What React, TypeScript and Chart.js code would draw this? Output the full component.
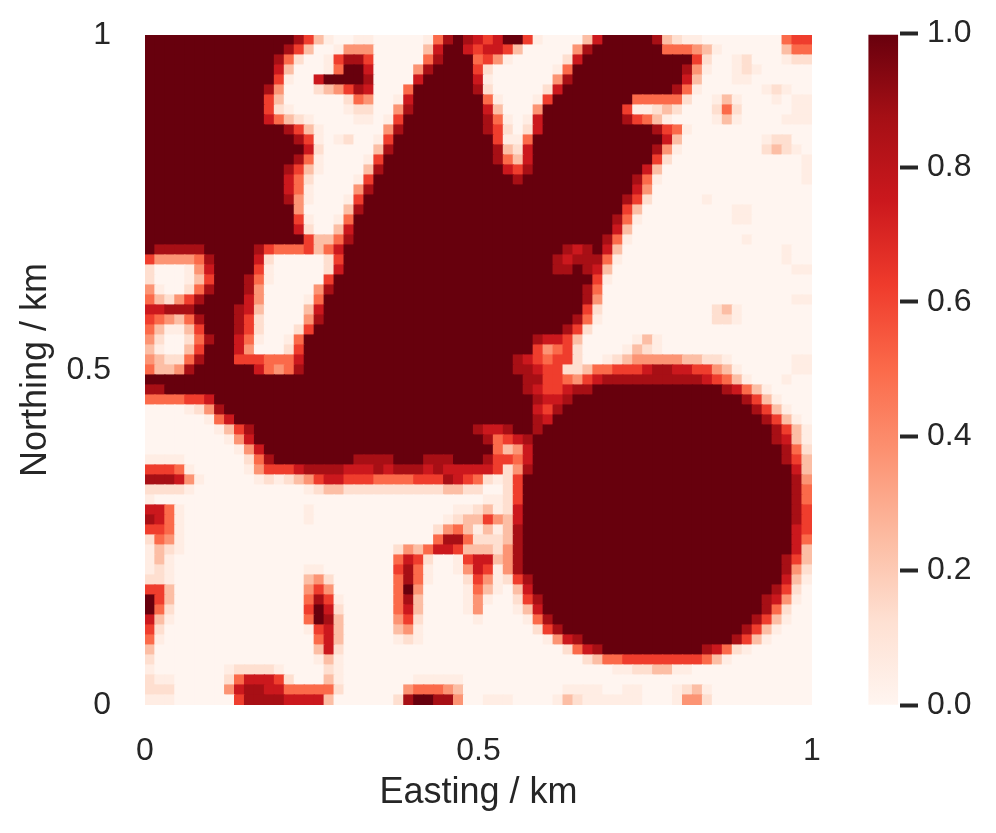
import React, { useEffect, useRef } from "react";
import { Chart, registerables } from "chart.js";

Chart.register(...registerables);

// Probability levels, 0 (pale) to 9 (dark); top row first, ten cells per group.
const gridRows: string[] = [
  "9999999999 9999986310 0110000015 8987679961 0000379999 9832110000 0000566",
  "9999999999 9999863001 4440000037 9976776300 0004899999 9955543100 0000355",
  "9999999999 9998520016 8860000058 9995641000 0027999999 9999962001 2000122",
  "9999999999 9997300015 9970000489 9996200000 0159999999 9999841001 2100000",
  "9999999999 9996100799 9980000799 9997100000 0489999999 9999730001 1000000",
  "9999999999 9984000234 6870005999 9998200000 2799999999 9998510000 0012100",
  "9999999999 9963000000 2540017999 9999510001 6999999995 5555200131 0001011",
  "9999999999 9962100000 1220048999 9999730004 9999999961 1232000252 0000011",
  "9999999999 9975321000 0110169999 9999851017 9999999986 5310000131 0000111",
  "9999999999 9999863100 0000489999 9999862027 9999999999 9865100000 0000000",
  "9999999999 9999986101 2001699999 9999961159 9999999999 9973000000 0012200",
  "9999999999 9999997200 0003899999 9999983279 9999999999 9841000000 0023210",
  "9999999999 9999985100 0016999999 9999985379 9999999999 9620000000 0000001",
  "9999999999 9999863100 0038999999 9999997689 9999999999 7300000000 0000001",
  "9999999999 9999752000 0169999999 9999999899 9999999998 5100000000 0000001",
  "9999999999 9999751000 0489999999 9999999999 9999999997 4000000000 0000000",
  "9999999999 9999841000 1699999999 9999999999 9999999986 2000001000 0000000",
  "9999999999 9999940000 3899999999 9999999999 9999999963 0000000001 1000000",
  "9999999999 9999961001 5999999999 9999999999 9999999851 0000000001 1000000",
  "9999999999 9999972003 7999999999 9999999999 9999999730 0000000000 0000000",
  "9999999999 9999996335 8999999999 9999999999 9999998510 0000000000 1000000",
  "9888889999 9865556357 9999999999 9999999999 9987897300 0000000000 0000100",
  "6444458999 9720000026 9999999999 9999999999 9878885100 0000000000 0000100",
  "2000147999 9610000027 9999999999 9999999999 9889873000 0000000000 0000011",
  "2000136999 8510000069 9999999999 9999999999 9999961000 0000000000 0000000",
  "4100258999 8400000489 9999999999 9999999999 9999850000 0000000000 0000000",
  "5324689999 7400001599 9999999999 9999999999 9999840000 0000000000 0000011",
  "7788899998 7300003799 9999999999 9999999999 9999620000 0000000231 0000000",
  "6543589998 6200004899 9999999999 9999999999 9998510000 0000000221 0000000",
  "5311369998 6200026999 9999999999 9999999999 9986200000 0000000000 0000000",
  "4200258997 5100159999 9999999999 9999999998 7763000001 3100000000 0000000",
  "3100369997 4000269999 9999999999 9999999996 4562000013 2100000000 0000000",
  "4322589996 6655579999 9999999999 9999999876 5662001234 4444332210 0000011",
  "5334899999 9754589999 9999999999 9999999887 6622355666 7887766431 0000011",
  "9999999999 9999999999 9999999999 9999999988 6654678888 8888887653 1000100",
  "8899999999 9999999999 9999999999 9999999987 6678899999 9999999987 5310000",
  "5555667999 9999999999 9999999999 9999999998 7789999999 9999999999 8631000",
  "0000124899 9999999999 9999999999 9999999997 6899999999 9999999999 9863100",
  "0000001579 9999999999 9999999999 9999999998 7999999999 9999999999 9986310",
  "0000000136 8999999999 9999999999 9998778998 9999999999 9999999999 9998631",
  "0000000014 7999999999 9999999999 9999856789 9999999999 9999999999 9998731",
  "0000000001 4799999999 9999999999 9999953479 9999999999 9999999999 9999852",
  "1111000000 2589999999 9888899988 8999866579 9999999999 9999999999 9999863",
  "6665100000 1466678888 7778788878 7777762489 9999999999 9999999999 9999973",
  "8887410000 0121234677 6665555666 8765212699 9999999999 9999999999 9999984",
  "2222100000 0000001233 2222222222 3322002699 9999999999 9999999999 9999985",
  "1000000000 0000000000 0000000000 0000112699 9999999999 9999999999 9999985",
  "7751000000 0000001000 0000000000 0112312799 9999999999 9999999999 9999986",
  "8751000000 0000001000 0000000000 1233643799 9999999999 9999999999 9999986",
  "6651000000 0000000000 0000000002 4531313899 9999999999 9999999999 9999976",
  "2541000000 0000000000 0000000005 8852223899 9999999999 9999999999 9999975",
  "1321000000 0000000000 0000024357 7633324899 9999999999 9999999999 9999973",
  "1310000000 0000000000 0000057620 0167734899 9999999999 9999999999 9999863",
  "1210000000 0000001100 0000068510 0147614899 9999999999 9999999999 9999842",
  "2210000000 0000003420 0000058510 0026412689 9999999999 9999999999 9999731",
  "6630000000 0000004640 0000059400 0015310379 9999999999 9999999999 9998620",
  "9630000000 0000005861 0000058300 0014100268 9999999999 9999999999 9987410",
  "9520000000 0000006972 0000057300 0014000137 9999999999 9999999999 9985200",
  "7310000000 0000005983 0000046200 0001000015 8999999999 9999999999 9863100",
  "6200000000 0000001673 0000034100 0000000002 6899999999 9999999999 8631000",
  "5100000000 0000000573 0000012100 0000000000 1478999999 9999999998 6310000",
  "3000000000 0000000372 0000000000 0000000000 0025789999 9999998752 1000000",
  "2000000000 0000000131 0000000000 0000000000 0000235566 6666665310 0000000",
  "1000000012 2221000021 0000000000 0000000000 0000000112 2331100000 0000000",
  "2110000025 7776200031 0000000111 1100000000 0000000000 0000000000 0000000",
  "2220000047 8877555552 0000004555 4300000000 0011110011 0001231000 0000000",
  "1110000006 8888777730 0000028998 8400111000 0132111111 0001442000 0000000",
];

const levelValues: number[] = [0, 0.05, 0.13, 0.24, 0.37, 0.5, 0.62, 0.75, 0.87, 1];
const mapTicks: number[] = [0, 0.5, 1];
const mapTickLabels: string[] = ["0", "0.5", "1"];
const barTicks: number[] = [0, 0.2, 0.4, 0.6, 0.8, 1];
const barRange: number[] = [0, 0.997];
const redStops: number[][] = [
  [255, 245, 240], [254, 224, 210], [252, 187, 161], [252, 146, 114], [251, 106, 74],
  [239, 59, 44], [203, 24, 29], [165, 15, 21], [103, 0, 13],
];

const INK = "#262626";
const FONT = "'Liberation Sans', Arial, sans-serif";

function reds(v: number): string {
  const p = Math.min(0.99999, Math.max(0, v)) * (redStops.length - 1);
  const i = Math.floor(p);
  const f = p - i;
  const a = redStops[i];
  const b = redStops[i + 1];
  return `rgb(${a.map((c, k) => Math.round(c + (b[k] - c) * f)).join(",")})`;
}

export default function App() {
  const mapRef = useRef<HTMLCanvasElement>(null);
  const barRef = useRef<HTMLCanvasElement>(null);

  useEffect(() => {
    const rows = gridRows.map((r) => r.replace(/ /g, ""));
    const nRows = rows.length;
    const nCols = rows[0].length;
    const cells: { x: number; y: number }[] = [];
    const colors: string[] = [];
    rows.forEach((row, r) => {
      for (let c = 0; c < nCols; c++) {
        cells.push({ x: (c + 0.5) / nCols, y: 1 - (r + 0.5) / nRows });
        colors.push(reds(levelValues[Number(row[c] || "0")]));
      }
    });

    const map = new Chart(mapRef.current!, {
      type: "scatter",
      data: {
        datasets: [
          {
            data: cells,
            pointStyle: "rect",
            backgroundColor: colors,
            borderWidth: 0,
            hoverRadius: 0,
            pointRadius: (ctx: any) => {
              const w = ctx.chart.chartArea ? ctx.chart.chartArea.width : 667;
              return ((w / nCols) * 1.12) / Math.SQRT2;
            },
          } as any,
        ],
      },
      options: {
        animation: false,
        responsive: false,
        layout: { autoPadding: false, padding: { top: 35, right: 184, left: 0, bottom: 0 } },
        plugins: { legend: { display: false }, tooltip: { enabled: false } },
        scales: {
          x: {
            type: "linear",
            min: 0,
            max: 1,
            afterBuildTicks: (s: any) => {
              s.ticks = mapTicks.map((value) => ({ value }));
            },
            afterFit: (s: any) => {
              s.height = 128;
              s.paddingLeft = 0;
              s.paddingRight = 0;
            },
            grid: { display: false },
            border: { display: false },
            ticks: {
              padding: 19,
              maxRotation: 0,
              autoSkip: false,
              color: INK,
              font: { family: FONT, size: 32 },
              callback: (v: any) => mapTickLabels[mapTicks.indexOf(Number(v))],
            },
            title: {
              display: true,
              text: "Easting / km",
              color: INK,
              font: { family: FONT, size: 36 },
              padding: { top: 0, bottom: 18 },
            },
          },
          y: {
            type: "linear",
            min: 0,
            max: 1,
            afterBuildTicks: (s: any) => {
              s.ticks = mapTicks.map((value) => ({ value }));
            },
            afterFit: (s: any) => {
              s.width = 145;
              s.paddingTop = 0;
              s.paddingBottom = 0;
            },
            grid: { display: false },
            border: { display: false },
            ticks: {
              padding: 26,
              autoSkip: false,
              color: INK,
              font: { family: FONT, size: 32 },
              callback: (v: any) => mapTickLabels[mapTicks.indexOf(Number(v))],
            },
            title: {
              display: true,
              text: "Northing / km",
              color: INK,
              font: { family: FONT, size: 36 },
              padding: { top: 14, bottom: 0 },
            },
          },
        },
      } as any,
    });

    const bar = new Chart(barRef.current!, {
      type: "bar",
      data: {
        datasets: [
          {
            data: [{ x: 0.453, y: barRange }],
            barThickness: 29,
            borderWidth: 0,
            backgroundColor: (ctx: any) => {
              const area = ctx.chart.chartArea;
              if (!area) return reds(0);
              const g = ctx.chart.ctx.createLinearGradient(0, area.bottom, 0, area.top);
              redStops.forEach((s, i) => g.addColorStop(i / (redStops.length - 1), `rgb(${s.join(",")})`));
              return g;
            },
          } as any,
        ],
      },
      options: {
        animation: false,
        responsive: false,
        layout: { autoPadding: false, padding: { top: 33, left: 18, right: 0, bottom: 128 } },
        plugins: { legend: { display: false }, tooltip: { enabled: false } },
        scales: {
          x: { type: "linear", min: 0, max: 1, display: false },
          y: {
            type: "linear",
            position: "right",
            min: 0,
            max: 1,
            afterBuildTicks: (s: any) => {
              s.ticks = barTicks.map((value) => ({ value }));
            },
            afterFit: (s: any) => {
              s.width = 96;
            },
            border: { display: false },
            grid: {
              drawOnChartArea: false,
              drawTicks: true,
              tickLength: 18,
              tickWidth: 4,
              tickColor: INK,
            },
            ticks: {
              padding: 9,
              color: INK,
              font: { family: FONT, size: 32 },
              callback: (v: any) => Number(v).toFixed(1),
            },
          },
        },
      } as any,
    });

    return () => {
      map.destroy();
      bar.destroy();
    };
  }, []);

  return (
    <div style={{ position: "absolute", left: 0, top: 0, width: 996, height: 833, background: "#fff", overflow: "hidden" }}>
      <canvas ref={mapRef} width={996} height={833} style={{ position: "absolute", left: 0, top: 0 }} />
      <canvas ref={barRef} width={146} height={833} style={{ position: "absolute", left: 850, top: 0 }} />
    </div>
  );
}
